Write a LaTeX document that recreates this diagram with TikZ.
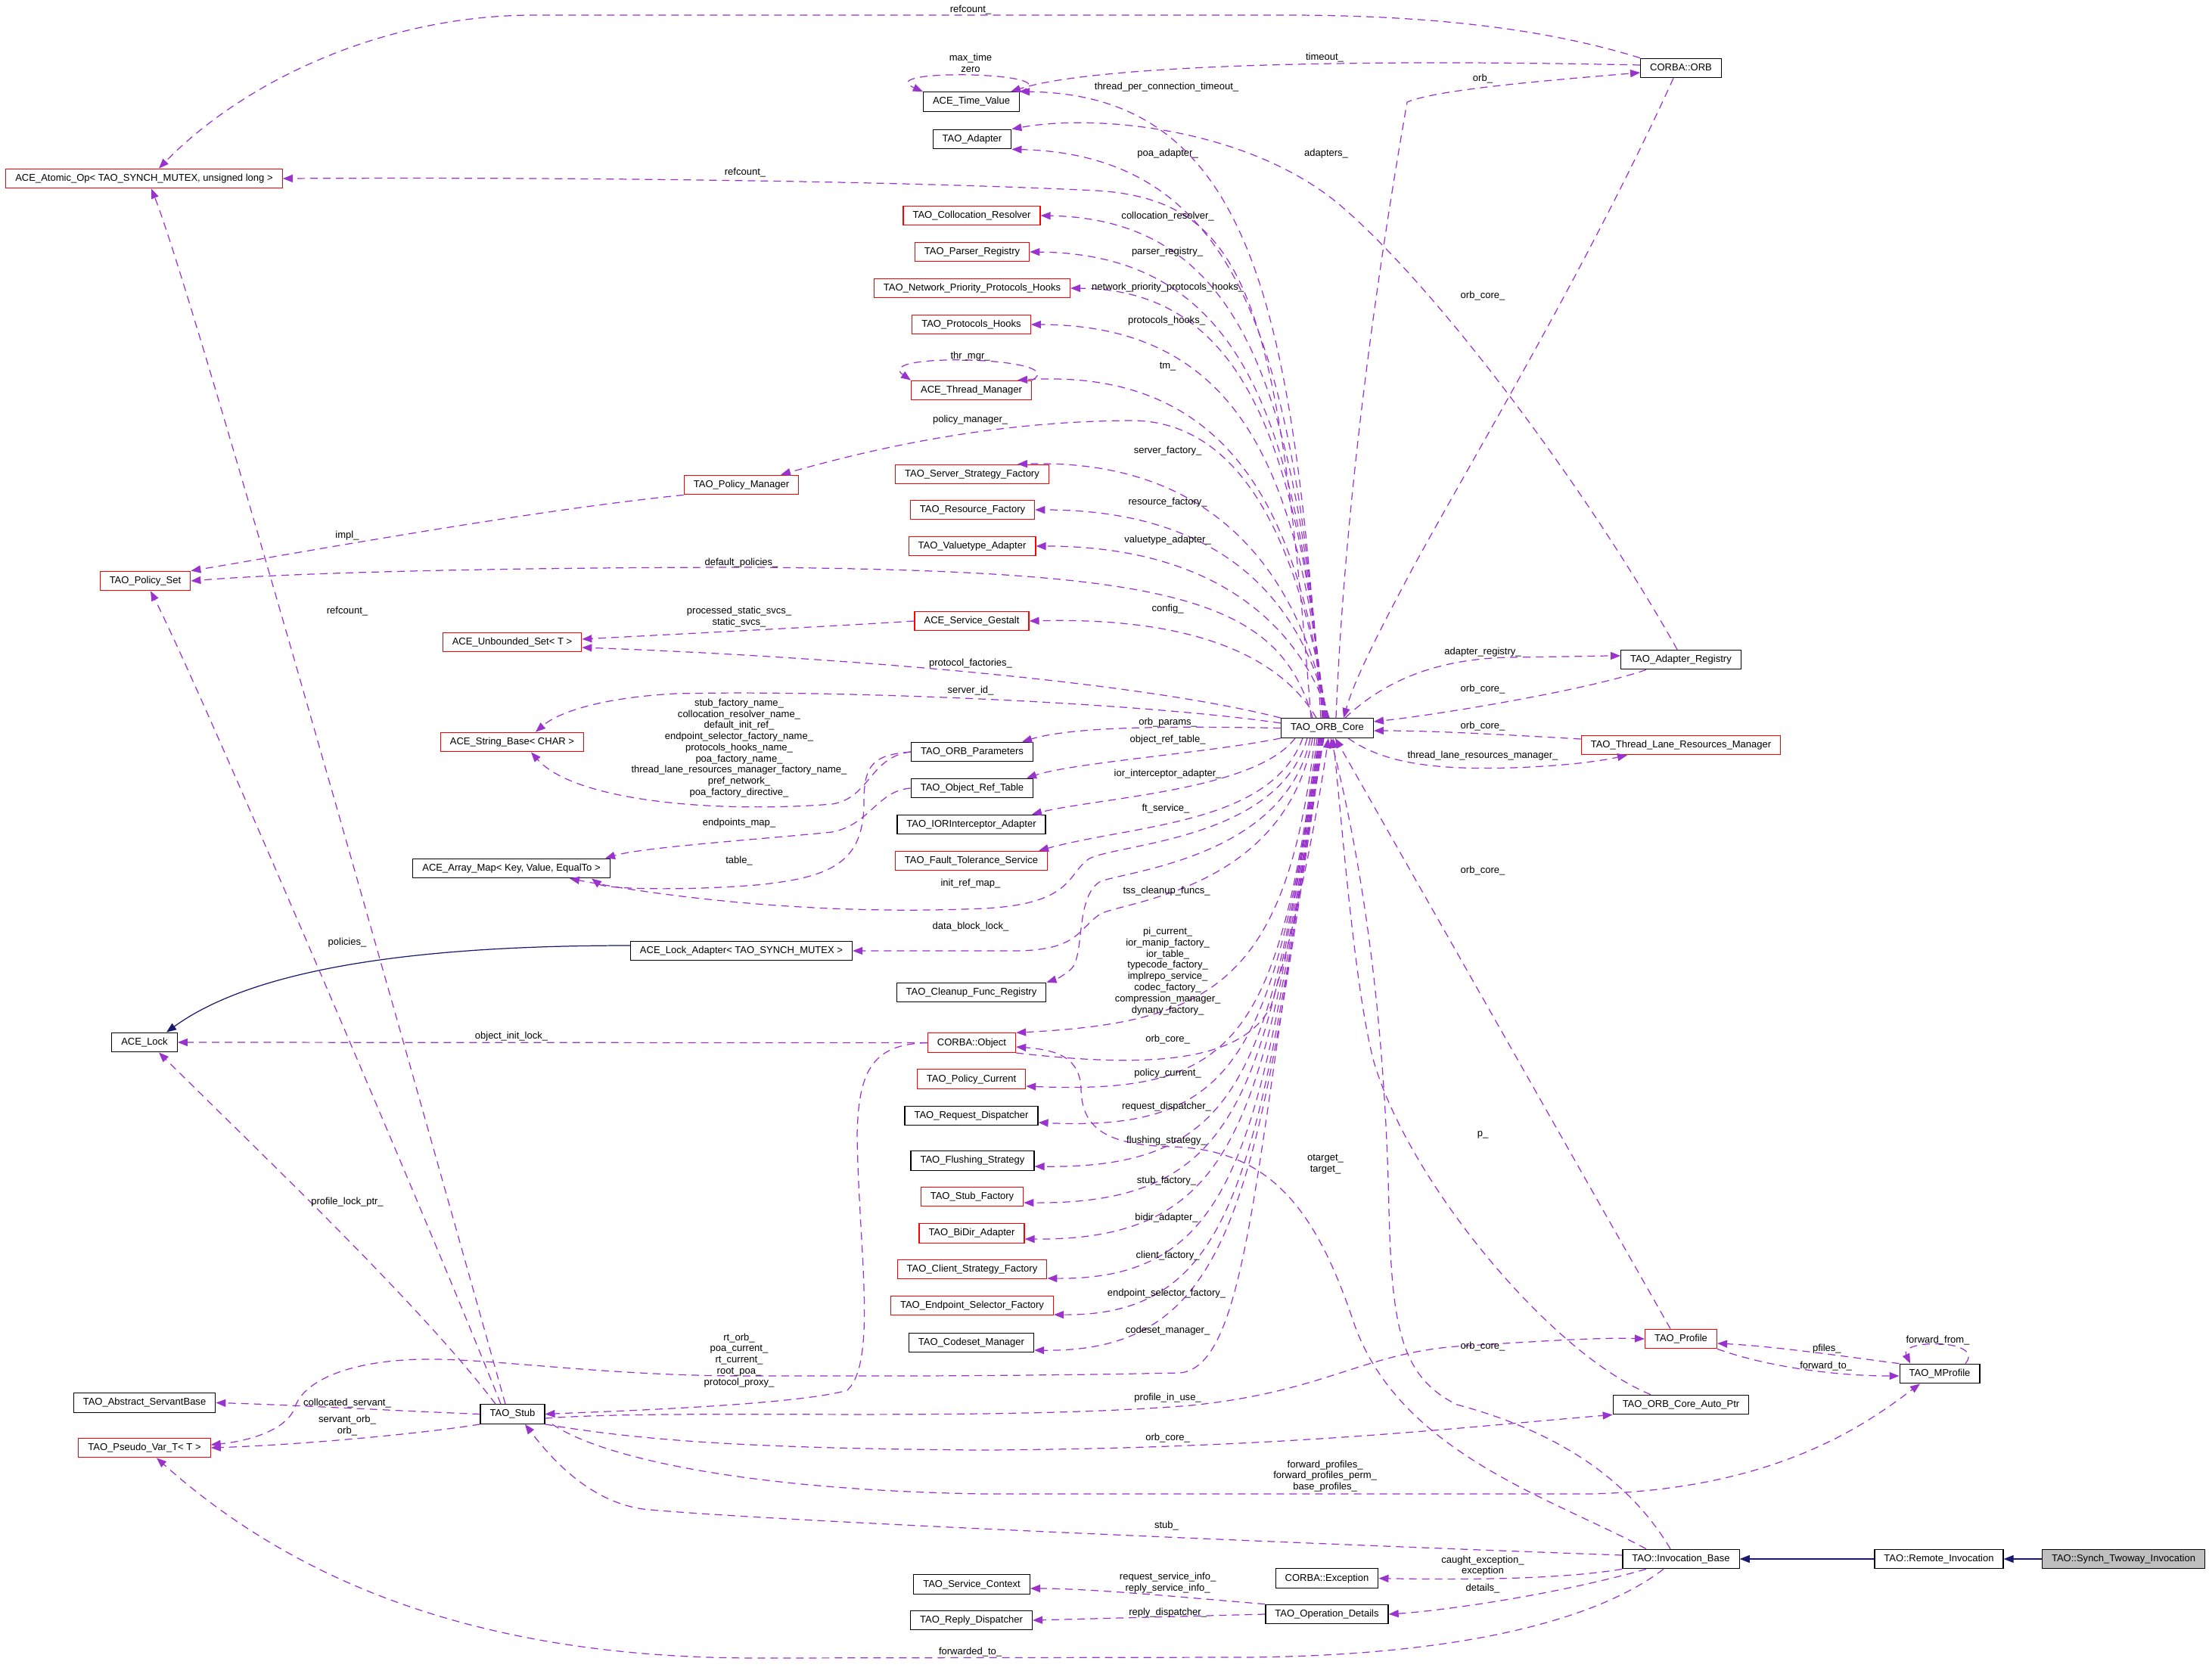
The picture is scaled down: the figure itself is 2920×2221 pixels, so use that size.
\documentclass[tikz,border=0pt]{standalone}
\usepackage{fontspec}
\setmainfont{Liberation Sans}
\usepackage{tikz}
\usetikzlibrary{arrows.meta}
\definecolor{purp}{RGB}{154,50,205}
\definecolor{navy}{RGB}{25,25,112}
\definecolor{maingray}{RGB}{191,191,191}

\begin{document}
\begin{tikzpicture}[x=0.01cm,y=-0.01cm,
	every node/.style={font=\fontsize{3.7}{4.2}\selectfont},
	cls/.style={draw=black,line width=0.35pt,fill=white,inner xsep=0.125cm,inner ysep=0pt,minimum height=0.255cm,text height=2.75pt,text depth=0.8pt},
	trunc/.style={cls,draw=red},
	mainbox/.style={cls,fill=maingray},
	lbl/.style={inner sep=0pt,align=center},
	mem/.style={draw=purp,line width=0.35pt,dash pattern=on 0.1cm off 0.07cm,-{Triangle[length=0.13cm,width=0.1cm]}},
	inh/.style={draw=navy,line width=0.35pt,-{Triangle[length=0.13cm,width=0.1cm]}}]
	\useasboundingbox (0,0) rectangle (2920,2221);
	\node[cls] (orb) at (2222,90) {CORBA::ORB};
	\node[cls] (tv) at (1284,134.5) {ACE\_Time\_Value};
	\node[cls] (adapter) at (1285,184) {TAO\_Adapter};
	\node[trunc] (atomic) at (190.5,236) {ACE\_Atomic\_Op< TAO\_SYNCH\_MUTEX, unsigned long >};
	\node[trunc] (collres) at (1284.5,285) {TAO\_Collocation\_Resolver};
	\node[trunc] (parser) at (1285,333) {TAO\_Parser\_Registry};
	\node[trunc] (nethooks) at (1285,381) {TAO\_Network\_Priority\_Protocols\_Hooks};
	\node[trunc] (prothooks) at (1284,429) {TAO\_Protocols\_Hooks};
	\node[trunc] (thrmgr) at (1284,516) {ACE\_Thread\_Manager};
	\node[trunc] (polmgr) at (980,641) {TAO\_Policy\_Manager};
	\node[trunc] (ssf) at (1285,627) {TAO\_Server\_Strategy\_Factory};
	\node[trunc] (resf) at (1285.5,674) {TAO\_Resource\_Factory};
	\node[trunc] (vta) at (1285,722) {TAO\_Valuetype\_Adapter};
	\node[trunc] (polset) at (192,768) {TAO\_Policy\_Set};
	\node[trunc] (uset) at (677,849) {ACE\_Unbounded\_Set< T >};
	\node[trunc] (gestalt) at (1284.5,821) {ACE\_Service\_Gestalt};
	\node[trunc] (sbase) at (677,981) {ACE\_String\_Base< CHAR >};
	\node[cls] (core) at (1754.5,962.5) {TAO\_ORB\_Core};
	\node[cls] (areg) at (2222,872) {TAO\_Adapter\_Registry};
	\node[trunc] (tlrm) at (2222,985) {TAO\_Thread\_Lane\_Resources\_Manager};
	\node[cls] (params) at (1285,994) {TAO\_ORB\_Parameters};
	\node[cls] (ortable) at (1285,1042) {TAO\_Object\_Ref\_Table};
	\node[cls] (iorint) at (1284,1090) {TAO\_IORInterceptor\_Adapter};
	\node[trunc] (ftsvc) at (1284,1138) {TAO\_Fault\_Tolerance\_Service};
	\node[cls] (amap) at (676,1148) {ACE\_Array\_Map< Key, Value, EqualTo >};
	\node[cls] (lockad) at (980,1257) {ACE\_Lock\_Adapter< TAO\_SYNCH\_MUTEX >};
	\node[cls] (cleanup) at (1284,1312) {TAO\_Cleanup\_Func\_Registry};
	\node[cls] (lock) at (191,1378) {ACE\_Lock};
	\node[trunc] (obj) at (1284.5,1378.6) {CORBA::Object};
	\node[trunc] (polcur) at (1284,1426.6) {TAO\_Policy\_Current};
	\node[cls] (reqdisp) at (1284,1475) {TAO\_Request\_Dispatcher};
	\node[cls] (flush) at (1285.5,1534.4) {TAO\_Flushing\_Strategy};
	\node[trunc] (stubf) at (1285,1582) {TAO\_Stub\_Factory};
	\node[trunc] (bidir) at (1284.5,1630.5) {TAO\_BiDir\_Adapter};
	\node[trunc] (csf) at (1285,1678) {TAO\_Client\_Strategy\_Factory};
	\node[trunc] (esf) at (1285,1726) {TAO\_Endpoint\_Selector\_Factory};
	\node[cls] (codeset) at (1284,1775) {TAO\_Codeset\_Manager};
	\node[trunc] (profile) at (2222,1770) {TAO\_Profile};
	\node[cls] (mprofile) at (2564,1816) {TAO\_MProfile};
	\node[cls] (autoptr) at (2222,1857) {TAO\_ORB\_Core\_Auto\_Ptr};
	\node[cls] (servant) at (191,1854.5) {TAO\_Abstract\_ServantBase};
	\node[trunc] (pvar) at (191,1914) {TAO\_Pseudo\_Var\_T< T >};
	\node[cls] (stub) at (677.5,1869.5) {TAO\_Stub};
	\node[cls] (invbase) at (2222,2061) {TAO::Invocation\_Base};
	\node[cls] (remote) at (2563,2061) {TAO::Remote\_Invocation};
	\node[mainbox] (synch) at (2807,2061) {TAO::Synch\_Twoway\_Invocation};
	\node[cls] (exc) at (1754,2086.6) {CORBA::Exception};
	\node[cls] (opdet) at (1754,2134) {TAO\_Operation\_Details};
	\node[cls] (svcctx) at (1284.5,2094.6) {TAO\_Service\_Context};
	\node[cls] (replyd) at (1284,2142) {TAO\_Reply\_Dispatcher};
	\draw[inh] (synch.west) -- (remote.east);
	\draw[inh] (remote.west) -- (invbase.east);
	\draw[inh] (lockad.west |- 0,1250) .. controls (600,1250) and (350,1270) .. (lock.north -| 220,0);
	\draw[mem] (orb.north west) .. controls (2050,40) and (1900,20) .. (1700,20) -- (700,20) .. controls (500,22) and (320,110) .. (atomic.north -| 210,0);
	\draw[mem] (orb.west |- 0,86) .. controls (1800,78) and (1450,85) .. (tv.north -| 1336,0);
	\draw[mem] (tv.north east) .. controls (1420,95) and (1150,90) .. (tv.north west);
	\draw[mem] (core.north -| 1746,0) .. controls (1710,420) and (1660,125) .. (tv.north east);
	\draw[mem] (core.north -| 1766,0) .. controls (1780,600) and (1840,250) .. (1860,135) .. controls (1900,118) and (2050,106) .. (orb.west |- 0,96);
	\draw[mem] (orb.south -| 2212,0) .. controls (2100,350) and (1950,600) .. (1868,750) .. controls (1820,840) and (1790,900) .. (core.north -| 1776,0);
	\draw[mem] (areg.north -| 2217,0) .. controls (2100,650) and (1900,380) .. (1770,270) .. controls (1650,170) and (1450,150) .. (adapter.north east);
	\draw[mem] (core.north -| 1748,0) .. controls (1712,480) and (1650,205) .. (adapter.south east);
	\draw[mem] (core.north -| 1733,0) .. controls (1690,400) and (1650,265) .. (1450,252) .. controls (1200,240) and (800,234) .. (atomic.east);
	\draw[mem] (core.north -| 1749,0) .. controls (1714,530) and (1650,290) .. (collres.east);
	\draw[mem] (core.north -| 1750,0) .. controls (1715,570) and (1650,336) .. (parser.east);
	\draw[mem] (core.north -| 1751,0) .. controls (1716,600) and (1650,383) .. (nethooks.east);
	\draw[mem] (core.north -| 1752,0) .. controls (1717,640) and (1650,430) .. (prothooks.east);
	\draw[mem] (thrmgr.north east) .. controls (1420,472) and (1150,465) .. (thrmgr.north west);
	\draw[mem] (core.north -| 1753,0) .. controls (1720,700) and (1640,485) .. (thrmgr.north -| 1345,0);
	\draw[mem] (core.north -| 1754,0) .. controls (1725,760) and (1660,560) .. (1500,556) .. controls (1300,556) and (1130,600) .. (polmgr.north -| 1032,0);
	\draw[mem] (core.north -| 1755,0) .. controls (1725,790) and (1630,605) .. (ssf.north -| 1345,0);
	\draw[mem] (core.north -| 1756,0) .. controls (1728,820) and (1640,674) .. (resf.east);
	\draw[mem] (core.north -| 1757,0) .. controls (1730,860) and (1640,722) .. (vta.east);
	\draw[mem] (polmgr.south west) .. controls (700,675) and (400,730) .. (polset.north east);
	\draw[mem] (core.north -| 1735,0) .. controls (1690,790) and (1550,755) .. (1000,750) .. controls (700,750) and (400,756) .. (polset.east);
	\draw[mem] (gestalt.west) .. controls (1100,828) and (900,838) .. (uset.east |- 0,845);
	\draw[mem] (core.north -| 1740,0) .. controls (1700,880) and (1600,815) .. (gestalt.east);
	\draw[mem] (core.north west) .. controls (1500,900) and (1100,868) .. (uset.east |- 0,856);
	\draw[mem] (core.west |- 0,956) .. controls (1500,928) and (1100,912) .. (893,917) .. controls (800,922) and (740,940) .. (sbase.north -| 708,0);
	\draw[mem] (params.west) .. controls (1150,1000) and (1150,1055) .. (1100,1063) .. controls (950,1075) and (760,1060) .. (sbase.south -| 702,0);
	\draw[mem] (core.north -| 1778,0) .. controls (1830,900) and (1900,870) .. (2000,869) .. controls (2080,868) and (2120,867) .. (areg.west |- 0,867);
	\draw[mem] (areg.south -| 2176,0) .. controls (2100,912) and (1900,945) .. (core.east |- 0,954);
	\draw[mem] (tlrm.west |- 0,977) .. controls (2000,972) and (1900,966) .. (core.east |- 0,966);
	\draw[mem] (core.south -| 1782,0) .. controls (1830,1010) and (1900,1018) .. (2000,1015) .. controls (2080,1012) and (2120,1005) .. (tlrm.south -| 2151,0);
	\draw[mem] (core.west) .. controls (1550,960) and (1420,960) .. (params.north -| 1351,0);
	\draw[mem] (core.south west) .. controls (1600,995) and (1420,1008) .. (ortable.north -| 1357,0);
	\draw[mem] (core.south -| 1712,0) .. controls (1660,1045) and (1450,1055) .. (iorint.north -| 1364,0);
	\draw[mem] (core.south -| 1722,0) .. controls (1680,1090) and (1500,1090) .. (ftsvc.north -| 1373,0);
	\draw[mem] (ortable.west) .. controls (1160,1045) and (1150,1090) .. (1100,1100) .. controls (1000,1110) and (850,1120) .. (amap.north -| 800,0);
	\draw[mem] (params.west) .. controls (1155,998) and (1142,1010) .. (1142,1060) .. controls (1142,1140) and (1100,1160) .. (1000,1170) .. controls (900,1178) and (800,1175) .. (amap.south -| 782,0);
	\draw[mem] (core.south -| 1728,0) .. controls (1690,1110) and (1480,1115) .. (1440,1135) .. controls (1410,1155) and (1420,1195) .. (1300,1201) .. controls (1100,1210) and (900,1190) .. (amap.south -| 753,0);
	\draw[mem] (core.south -| 1732,0) .. controls (1700,1130) and (1500,1150) .. (1455,1165) .. controls (1420,1185) and (1435,1265) .. (1415,1282) .. controls (1405,1290) and (1398,1294) .. (cleanup.north east);
	\draw[mem] (core.south -| 1735,0) .. controls (1700,1170) and (1500,1190) .. (1457,1207) .. controls (1425,1225) and (1430,1255) .. (1347,1257) -- (lockad.east);
	\draw[mem] (core.south -| 1738,0) .. controls (1700,1300) and (1600,1352) .. (obj.north east);
	\draw[mem] (obj.south east) .. controls (1500,1410) and (1640,1410) .. (1680,1330) .. controls (1720,1200) and (1745,1050) .. (core.south -| 1756,0);
	\draw[mem] (obj.west) -- (lock.east);
	\draw[mem] (core.south -| 1741,0) .. controls (1690,1380) and (1630,1447) .. (polcur.east |- 0,1436);
	\draw[mem] (core.south -| 1743,0) .. controls (1685,1400) and (1630,1496) .. (reqdisp.east |- 0,1484);
	\draw[mem] (core.south -| 1744,0) .. controls (1680,1420) and (1640,1545) .. (flush.east |- 0,1542);
	\draw[mem] (core.south -| 1745,0) .. controls (1675,1450) and (1640,1592) .. (stubf.east |- 0,1590);
	\draw[mem] (core.south -| 1746,0) .. controls (1672,1480) and (1640,1640) .. (bidir.east |- 0,1638);
	\draw[mem] (core.south -| 1747,0) .. controls (1668,1510) and (1640,1692) .. (csf.east |- 0,1690);
	\draw[mem] (core.south -| 1748,0) .. controls (1665,1540) and (1640,1740) .. (esf.east |- 0,1738);
	\draw[mem] (core.south -| 1749,0) .. controls (1662,1570) and (1640,1788) .. (codeset.east |- 0,1785);
	\draw[mem] (core.south -| 1750,0) .. controls (1660,1500) and (1655,1805) .. (1560,1815) .. controls (1300,1820) and (1150,1819) .. (1000,1819) .. controls (800,1820) and (650,1795) .. (555,1797) .. controls (450,1800) and (400,1830) .. (390,1860) .. controls (380,1890) and (330,1905) .. (pvar.east |- 0,1910);
	\draw[mem] (invbase.north -| 2176,0) .. controls (2050,1980) and (1850,1920) .. (1790,1750) .. controls (1740,1600) and (1680,1520) .. (1550,1516) .. controls (1460,1514) and (1430,1490) .. (1429,1440) .. controls (1428,1400) and (1400,1388) .. (obj.east |- 0,1384);
	\draw[mem] (profile.north -| 2208,0) -- (core.south -| 1765,0);
	\draw[mem] (autoptr.north -| 2182,0) .. controls (2050,1790) and (1860,1560) .. (1815,1400) .. controls (1790,1300) and (1775,1100) .. (core.south -| 1762,0);
	\draw[mem] (invbase.north -| 2208,0) .. controls (2150,1950) and (2050,1890) .. (1926,1857) .. controls (1850,1820) and (1840,1750) .. (1836,1600) .. controls (1830,1300) and (1790,1100) .. (core.south -| 1759,0);
	\draw[mem] (mprofile.north -| 2598,0) .. controls (2625,1770) and (2510,1770) .. (mprofile.north -| 2525,0);
	\draw[mem] (mprofile.north west) .. controls (2450,1795) and (2350,1780) .. (profile.east |- 0,1776);
	\draw[mem] (profile.south east) .. controls (2330,1805) and (2420,1819) .. (mprofile.west |- 0,1819);
	\draw[mem] (obj.west) .. controls (1150,1380) and (1135,1420) .. (1133,1500) .. controls (1135,1650) and (1160,1800) .. (1120,1838) .. controls (1050,1858) and (800,1866) .. (stub.east);
	\draw[mem] (stub.east |- 0,1875) .. controls (900,1862) and (1300,1880) .. (1574,1858) .. controls (1750,1840) and (1800,1790) .. (1925,1780) .. controls (2050,1772) and (2120,1768) .. (profile.west);
	\draw[mem] (stub.south east) .. controls (850,1905) and (1000,1915) .. (1300,1917) .. controls (1700,1915) and (1950,1885) .. (autoptr.south west);
	\draw[mem] (stub.south -| 730,0) .. controls (800,1930) and (1000,1970) .. (1300,1975) -- (2100,1975) .. controls (2350,1970) and (2470,1880) .. (mprofile.south -| 2538,0);
	\draw[mem] (invbase.west |- 0,2056) .. controls (1700,2040) and (1000,2010) .. (850,1995) .. controls (780,1985) and (730,1930) .. (stub.south -| 694,0);
	\draw[mem] (stub.north -| 668,0) .. controls (610,1650) and (260,400) .. (atomic.south -| 200,0);
	\draw[mem] (stub.north -| 662,0) .. controls (560,1600) and (260,900) .. (polset.south -| 199,0);
	\draw[mem] (stub.north -| 655,0) .. controls (560,1730) and (350,1530) .. (lock.south -| 210,0);
	\draw[mem] (stub.west) .. controls (500,1864) and (380,1857) .. (servant.east);
	\draw[mem] (stub.south west) .. controls (560,1895) and (400,1910) .. (pvar.east);
	\draw[mem] (invbase.south -| 2199,0) .. controls (2100,2150) and (1900,2190) .. (1638,2191) -- (1000,2192) .. controls (650,2192) and (400,2100) .. (pvar.south -| 207,0);
	\draw[mem] (invbase.south west) .. controls (2050,2090) and (1900,2088) .. (exc.east);
	\draw[mem] (invbase.south -| 2176,0) .. controls (2050,2110) and (1900,2130) .. (opdet.east);
	\draw[mem] (opdet.north west) .. controls (1600,2115) and (1450,2100) .. (svcctx.east |- 0,2100);
	\draw[mem] (opdet.west) -- (replyd.east);
	\node[lbl] (l1) at (1283,13) {refcount\_};
	\node[lbl] (l2) at (1751,76) {timeout\_};
	\node[lbl] (l3) at (1283,83.5) {max\_time\\zero};
	\node[lbl] (l4) at (1542,115) {thread\_per\_connection\_timeout\_};
	\node[lbl] (l5) at (1960,104) {orb\_};
	\node[lbl] (l6) at (1753,203) {adapters\_};
	\node[lbl] (l7) at (1543.6,203.6) {poa\_adapter\_};
	\node[lbl] (l8) at (985,228) {refcount\_};
	\node[lbl] (l9) at (1543.6,286.5) {collocation\_resolver\_};
	\node[lbl] (l10) at (1543,333) {parser\_registry\_};
	\node[lbl] (l11) at (1543.6,380) {network\_priority\_protocols\_hooks\_};
	\node[lbl] (l12) at (1542,424) {protocols\_hooks\_};
	\node[lbl] (l13) at (1960,391) {orb\_core\_};
	\node[lbl] (l14) at (1282.6,471) {thr\_mgr\_};
	\node[lbl] (l15) at (1543.6,485) {tm\_};
	\node[lbl] (l16) at (1282.6,555) {policy\_manager\_};
	\node[lbl] (l17) at (1543.6,595.7) {server\_factory\_};
	\node[lbl] (l18) at (1543.6,664.5) {resource\_factory\_};
	\node[lbl] (l19) at (1543.6,714.4) {valuetype\_adapter\_};
	\node[lbl] (l20) at (459,708.6) {impl\_};
	\node[lbl] (l21) at (980,744) {default\_policies\_};
	\node[lbl] (l22) at (459,808) {refcount\_};
	\node[lbl] (l23) at (977,815.5) {processed\_static\_svcs\_\\static\_svcs\_};
	\node[lbl] (l24) at (1543.6,805) {config\_};
	\node[lbl] (l25) at (1283,876.7) {protocol\_factories\_};
	\node[lbl] (l26) at (1960,862) {adapter\_registry\_};
	\node[lbl] (l27) at (1283,912.6) {server\_id\_};
	\node[lbl] (l28) at (1960,911) {orb\_core\_};
	\node[lbl] (l29) at (977,989) {stub\_factory\_name\_\\collocation\_resolver\_name\_\\default\_init\_ref\_\\endpoint\_selector\_factory\_name\_\\protocols\_hooks\_name\_\\poa\_factory\_name\_\\thread\_lane\_resources\_manager\_factory\_name\_\\pref\_network\_\\poa\_factory\_directive\_};
	\node[lbl] (l30) at (1543.6,954.7) {orb\_params\_};
	\node[lbl] (l31) at (1960,960.5) {orb\_core\_};
	\node[lbl] (l32) at (1543.6,978.5) {object\_ref\_table\_};
	\node[lbl] (l33) at (1960,999) {thread\_lane\_resources\_manager\_};
	\node[lbl] (l34) at (1543.6,1023.6) {ior\_interceptor\_adapter\_};
	\node[lbl] (l35) at (1541,1068.6) {ft\_service\_};
	\node[lbl] (l36) at (977,1088) {endpoints\_map\_};
	\node[lbl] (l37) at (977,1138) {table\_};
	\node[lbl] (l38) at (1960,1151.5) {orb\_core\_};
	\node[lbl] (l39) at (1283,1168.5) {init\_ref\_map\_};
	\node[lbl] (l40) at (1542,1178.6) {tss\_cleanup\_funcs\_};
	\node[lbl] (l41) at (1283,1225) {data\_block\_lock\_};
	\node[lbl] (l42) at (459,1246.5) {policies\_};
	\node[lbl] (l43) at (1543.6,1284) {pi\_current\_\\ior\_manip\_factory\_\\ior\_table\_\\typecode\_factory\_\\implrepo\_service\_\\codec\_factory\_\\compression\_manager\_\\dynany\_factory\_};
	\node[lbl] (l44) at (676,1370.6) {object\_init\_lock\_};
	\node[lbl] (l45) at (1543.6,1374.5) {orb\_core\_};
	\node[lbl] (l46) at (1543.6,1419) {policy\_current\_};
	\node[lbl] (l47) at (1542,1462.7) {request\_dispatcher\_};
	\node[lbl] (l48) at (1960,1500) {p\_};
	\node[lbl] (l49) at (1542,1508) {flushing\_strategy\_};
	\node[lbl] (l50) at (1752,1539) {otarget\_\\target\_};
	\node[lbl] (l51) at (1542,1561) {stub\_factory\_};
	\node[lbl] (l52) at (459,1589) {profile\_lock\_ptr\_};
	\node[lbl] (l53) at (1542,1610.4) {bidir\_adapter\_};
	\node[lbl] (l54) at (1543.6,1660.5) {client\_factory\_};
	\node[lbl] (l55) at (1542,1710.6) {endpoint\_selector\_factory\_};
	\node[lbl] (l56) at (1543.6,1759) {codeset\_manager\_};
	\node[lbl] (l57) at (977,1791) {rt\_orb\_\\poa\_current\_\\rt\_current\_\\root\_poa\_};
	\node[lbl] (l58) at (977,1828.5) {protocol\_proxy\_};
	\node[lbl] (l59) at (1960,1780) {orb\_core\_};
	\node[lbl] (l60) at (2561.5,1771.6) {forward\_from\_};
	\node[lbl] (l61) at (2414.8,1783.4) {pfiles\_};
	\node[lbl] (l62) at (2413.6,1806) {forward\_to\_};
	\node[lbl] (l63) at (1543.6,1848.6) {profile\_in\_use\_};
	\node[lbl] (l64) at (459,1854.8) {collocated\_servant\_};
	\node[lbl] (l65) at (459,1884.3) {servant\_orb\_\\orb\_};
	\node[lbl] (l66) at (1543.6,1900.6) {orb\_core\_};
	\node[lbl] (l67) at (1751.6,1951.5) {forward\_profiles\_\\forward\_profiles\_perm\_\\base\_profiles\_};
	\node[lbl] (l68) at (1542,2017) {stub\_};
	\node[lbl] (l69) at (1960,2070) {caught\_exception\_\\exception};
	\node[lbl] (l70) at (1960,2099.6) {details\_};
	\node[lbl] (l71) at (1543.6,2092.3) {request\_service\_info\_\\reply\_service\_info\_};
	\node[lbl] (l72) at (1543.6,2131.7) {reply\_dispatcher\_};
	\node[lbl] (l73) at (1282.6,2183.7) {forwarded\_to\_};
\end{tikzpicture}
\end{document}
